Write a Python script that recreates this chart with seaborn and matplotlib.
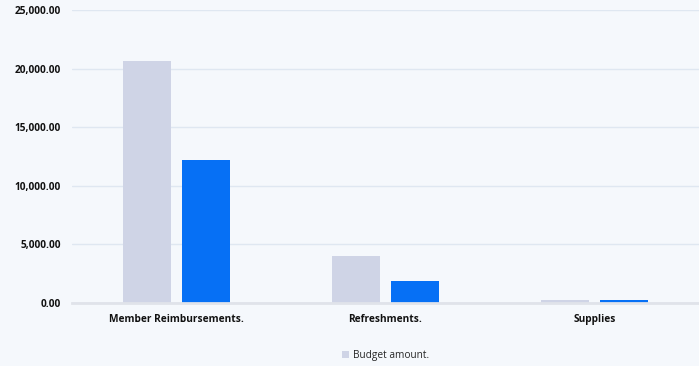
import pandas as pd
import numpy as np
import seaborn as sns
import matplotlib.pyplot as plt
from matplotlib.ticker import FuncFormatter

# Data
categories = ["Member Reimbursements.", "Refreshments.", "Supplies"]
budget_amount = [20650, 4030, 230]
spent_amount = [12200, 1850, 240]
series_names = ["Budget amount.", "Spent amount."]

df = pd.DataFrame({
    "category": categories * 2,
    "value": budget_amount + spent_amount,
    "series": [series_names[0]] * 3 + [series_names[1]] * 3,
})

sns.set_theme(style="white")
plt.rcParams["font.family"] = ["Open Sans", "DejaVu Sans"]

bg = "#F5F8FC"
fig, ax = plt.subplots(figsize=(6.99, 3.66), dpi=100)
fig.patch.set_facecolor(bg)
ax.set_facecolor(bg)

sns.barplot(
    data=df, x="category", y="value", hue="series",
    palette=["#CFD4E6", "#0670F5"], width=0.571, gap=0.2,
    saturation=1, edgecolor="none", ax=ax, legend=True,
)

ax.set_ylim(0, 25000)
ax.set_yticks(np.arange(0, 25001, 5000))
ax.yaxis.set_major_formatter(FuncFormatter(lambda v, p: f"{v:,.2f}"))
ax.set_xlim(-0.5, 2.5)
ax.grid(axis="y", color="#DFE7F1", linewidth=1)
ax.set_axisbelow(True)
for s in ["top", "right", "left"]:
    ax.spines[s].set_visible(False)
ax.spines["bottom"].set_color("#E0E3EA")
ax.spines["bottom"].set_linewidth(2)
ax.set_xlabel("")
ax.set_ylabel("")
ax.tick_params(axis="both", length=0, labelsize=7.3, colors="#111111")
ax.tick_params(axis="x", pad=8)
ax.tick_params(axis="y", pad=8)
for lab in ax.get_xticklabels() + ax.get_yticklabels():
    lab.set_fontweight("bold")

# only the first series appears in the legend
handles, labels = ax.get_legend_handles_labels()
ax.legend(handles[:1], labels[:1], loc="upper center", bbox_to_anchor=(0.5, -0.13),
          frameon=False, fontsize=7.3, handlelength=0.7, handleheight=0.7,
          handletextpad=0.3)

plt.subplots_adjust(left=0.103, right=1.0, top=0.973, bottom=0.172)
plt.savefig("out.png", dpi=100, facecolor=bg)
